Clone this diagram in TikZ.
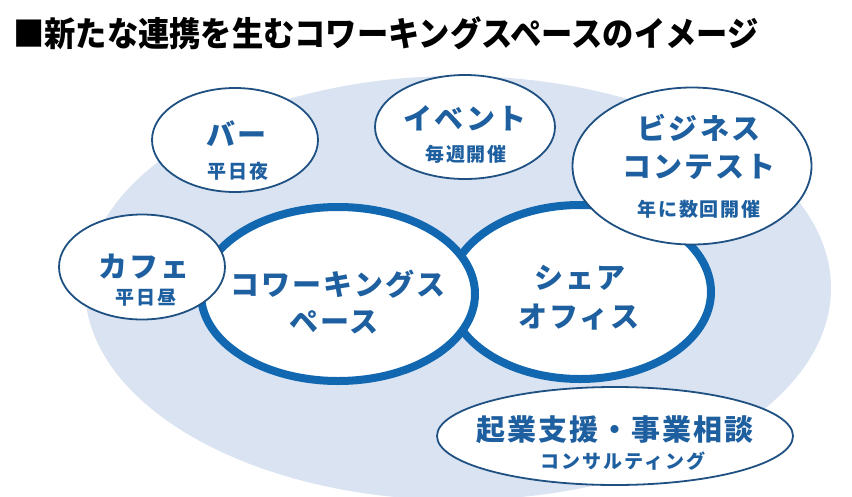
\documentclass[tikz,border=0pt]{standalone}
\usepackage{fontspec}
\usetikzlibrary{shapes.geometric}
\newfontfamily\jp{Noto Sans CJK JP}
\newfontfamily\jpsp[LetterSpace=7]{Noto Sans CJK JP}
\newfontfamily\jpsm[LetterSpace=10]{Noto Sans CJK JP}
\definecolor{bgblue}{RGB}{218,227,242}
\definecolor{ringblue}{RGB}{17,104,177}
\definecolor{thinblue}{RGB}{30,80,130}
\definecolor{txtblue}{RGB}{30,95,160}
\tikzset{
  ring/.style={ellipse, fill=white, draw=ringblue, line width=8pt, inner sep=0pt},
  bubble/.style={ellipse, fill=white, draw=thinblue, line width=1.8pt, inner sep=0pt},
  bigtxt/.style={inner sep=0pt, text=txtblue, font=\jpsp\bfseries\fontsize{29}{29}\selectfont},
  smalltxt/.style={inner sep=0pt, text=txtblue, font=\jpsm\bfseries\fontsize{19}{19}\selectfont},
}
\begin{document}
\begin{tikzpicture}[x=1pt,y=-1pt]
\useasboundingbox (0,0) rectangle (852,496);
\fill[white] (0,0) rectangle (852,496);
% title
\node[anchor=west, inner sep=0pt, xscale=0.92, font=\jp\bfseries\fontsize{34}{34}\selectfont] (title) at (13,33) {■新たな連携を生むコワーキングスペースのイメージ};
% background
\node[ellipse, fill=bgblue, minimum width=746pt, minimum height=424pt, inner sep=0pt] (bg) at (458,288) {};
% main rings
\node[ring, minimum width=262pt, minimum height=174pt] (share) at (580,292) {};
\node[ring, minimum width=274pt, minimum height=174pt] (cowork) at (338,294) {};
% bubbles
\node[bubble, minimum width=166pt, minimum height=104pt] (bar) at (235,140) {};
\node[bubble, minimum width=180pt, minimum height=104pt] (event) at (465,127) {};
\node[bubble, minimum width=239pt, minimum height=157pt] (biz) at (692,166) {};
\node[bubble, minimum width=166pt, minimum height=105pt] (cafe) at (142,267) {};
\node[bubble, minimum width=356pt, minimum height=98pt] (kigyo) at (615,436) {};
% texts
\node[bigtxt] (barT) at (237,134) {バー};
\node[smalltxt] (barS) at (238,171) {平日夜};
\node[bigtxt] (eventT) at (465,118) {イベント};
\node[smalltxt] (eventS) at (466,154) {毎週開催};
\node[bigtxt] (bizT1) at (699,128) {ビジネス};
\node[bigtxt] (bizT2) at (699,167) {コンテスト};
\node[smalltxt] (bizS) at (699,209) {年に数回開催};
\node[bigtxt] (cafeT) at (144,267) {カフェ};
\node[smalltxt] (cafeS) at (146,298) {平日昼};
\node[bigtxt] (cwT1) at (338,284) {コワーキングス};
\node[bigtxt] (cwT2) at (334,322) {ペース};
\node[bigtxt] (shT1) at (580,278) {シェア};
\node[bigtxt] (shT2) at (579,317) {オフィス};
\node[bigtxt] (kgT) at (615,430) {起業支援・事業相談};
\node[smalltxt] (kgS) at (623,461) {コンサルティング};
\end{tikzpicture}
\end{document}
